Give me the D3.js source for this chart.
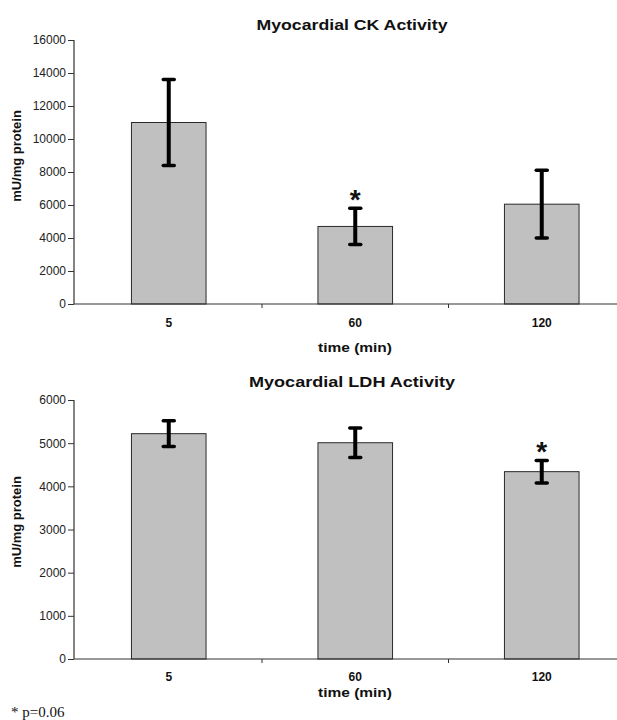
<!DOCTYPE html>
<html>
<head>
<meta charset="utf-8">
<script src="https://cdn.jsdelivr.net/npm/d3@7"></script>
<style>
  html, body { margin: 0; padding: 0; background: #fff; }
  svg { display: block; }
</style>
</head>
<body>
<svg id="chart" width="617" height="720"></svg>
<script>
// ---- data ----
const categories = ["5", "60", "120"];
const ckMean = [11000, 4700, 6050];
const ckErr = [2600, 1100, 2050];
const ckSig = [false, true, false];
const ckTicks = [0, 2000, 4000, 6000, 8000, 10000, 12000, 14000, 16000];

const ldhMean = [5220, 5010, 4340];
const ldhErr = [300, 340, 260];
const ldhSig = [false, false, true];
const ldhTicks = [0, 1000, 2000, 3000, 4000, 5000, 6000];

const titles = ["Myocardial CK Activity", "Myocardial LDH Activity"];
const yLabel = "mU/mg protein";
const xLabel = "time (min)";
const footnote = "* p=0.06";

const svg = d3.select("#chart");
const FONT = "Arial, 'Liberation Sans', Helvetica, sans-serif";

function panel(opts) {
  const g = svg.append("g");
  const axisX = 74;
  const x = d3.scaleBand().domain(categories).range([75.5, 635]).paddingInner(0.6).paddingOuter(0.3);
  const y = d3.scaleLinear().domain([0, d3.max(opts.ticks)]).range([opts.y0, opts.y1]);

  // title
  g.append("text").attr("x", opts.titleX).attr("y", opts.titleY)
    .attr("text-anchor", "middle").attr("font-family", FONT).attr("font-weight", "bold")
    .attr("font-size", 15).attr("fill", "#111").text(opts.title)
    .attr("textLength", opts.titleLen).attr("lengthAdjust", "spacingAndGlyphs");

  // y label
  g.append("text").attr("transform", `translate(${21},${opts.yLabelY}) rotate(-90)`)
    .attr("text-anchor", "middle").attr("font-family", FONT).attr("font-weight", "bold")
    .attr("font-size", 13).attr("fill", "#111").text(yLabel);

  // bars
  g.selectAll("rect.bar").data(opts.mean).join("rect")
    .attr("class", "bar")
    .attr("x", (d, i) => x(categories[i]))
    .attr("width", x.bandwidth())
    .attr("y", d => y(d))
    .attr("height", d => y(0) - y(d))
    .attr("fill", "#c0c0c0").attr("stroke", "#2a2a2a").attr("stroke-width", 1);

  // y axis
  const ya = g.append("g").attr("transform", `translate(${axisX},0)`)
    .call(d3.axisLeft(y).tickValues(opts.ticks).tickSize(6).tickPadding(2).tickFormat(d3.format("d")));
  ya.select(".domain").attr("stroke", "#333").attr("stroke-width", 1.2).attr("d", `M-0,${y(d3.max(opts.ticks))}V${y(0)}`);
  ya.selectAll(".tick line").attr("stroke", "#333");
  ya.selectAll(".tick text").attr("font-family", FONT).attr("font-size", 12).attr("fill", "#222");

  // x axis line
  g.append("line").attr("x1", axisX).attr("x2", 617).attr("y1", y(0)).attr("y2", y(0))
    .attr("stroke", "#333").attr("stroke-width", 1.2);
  // category boundary ticks
  const bnd = d3.range(1, categories.length).map(i => (x(categories[i - 1]) + x.bandwidth() / 2 + x(categories[i]) + x.bandwidth() / 2) / 2);
  g.selectAll("line.xt").data(bnd).join("line").attr("class", "xt")
    .attr("x1", d => d).attr("x2", d => d).attr("y1", y(0)).attr("y2", y(0) + 4)
    .attr("stroke", "#333");
  // category labels
  g.selectAll("text.cat").data(categories).join("text").attr("class", "cat")
    .attr("x", d => x(d) + x.bandwidth() / 2).attr("y", y(0) + opts.catOff)
    .attr("text-anchor", "middle").attr("font-family", FONT).attr("font-weight", "bold")
    .attr("font-size", 12).attr("fill", "#111").text(d => d);
  // x label
  g.append("text").attr("x", 355).attr("y", y(0) + opts.xLabelOff)
    .attr("text-anchor", "middle").attr("font-family", FONT).attr("font-weight", "bold")
    .attr("font-size", 12).attr("fill", "#111").text(xLabel)
    .attr("textLength", 74).attr("lengthAdjust", "spacingAndGlyphs");

  // error bars
  const cx = i => x(categories[i]) + x.bandwidth() / 2;
  const eb = g.selectAll("g.eb").data(opts.mean).join("g").attr("class", "eb");
  eb.append("line").attr("x1", (d, i) => cx(i)).attr("x2", (d, i) => cx(i))
    .attr("y1", (d, i) => y(d + opts.err[i])).attr("y2", (d, i) => y(d - opts.err[i]))
    .attr("stroke", "#000").attr("stroke-width", 4);
  [1, -1].forEach(s => {
    eb.append("line").attr("x1", (d, i) => cx(i) - 5.5).attr("x2", (d, i) => cx(i) + 5.5)
      .attr("y1", (d, i) => y(d + s * opts.err[i])).attr("y2", (d, i) => y(d + s * opts.err[i]))
      .attr("stroke", "#000").attr("stroke-width", 3.5).attr("stroke-linecap", "round");
  });
  // significance stars
  g.selectAll("text.star").data(opts.mean.map((d, i) => ({ d, i })).filter(o => opts.sig[o.i])).join("text")
    .attr("class", "star")
    .attr("x", o => cx(o.i)).attr("y", o => y(o.d + opts.err[o.i]) + 1)
    .attr("text-anchor", "middle").attr("font-family", FONT).attr("font-weight", "bold")
    .attr("font-size", 28).attr("fill", "#111").text("*");
}

panel({ title: titles[0], titleX: 352, titleY: 30, titleLen: 191, mean: ckMean, err: ckErr, sig: ckSig,
  ticks: ckTicks, y0: 304, y1: 40, yLabelY: 156, catOff: 23, xLabelOff: 48 });
panel({ title: titles[1], titleX: 352, titleY: 387, titleLen: 206, mean: ldhMean, err: ldhErr, sig: ldhSig,
  ticks: ldhTicks, y0: 659, y1: 400, yLabelY: 522, catOff: 21.5, xLabelOff: 37.5 });

svg.append("text").attr("x", 11).attr("y", 717)
  .attr("font-family", "'Liberation Serif', 'Times New Roman', serif")
  .attr("font-size", 15).attr("fill", "#111").text(footnote);
</script>
</body>
</html>
